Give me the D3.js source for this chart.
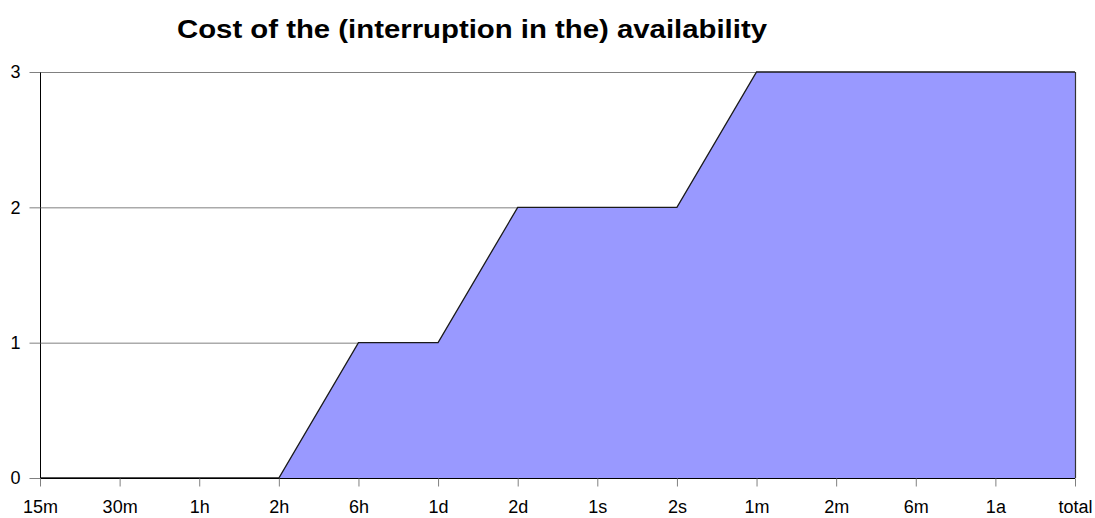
<!DOCTYPE html>
<html><head><meta charset="utf-8">
<script src="https://cdn.jsdelivr.net/npm/d3@7"></script>
<style>body{margin:0;background:#fff}svg{display:block}</style>
</head><body>
<script>
const categories = ["15m","30m","1h","2h","6h","1d","2d","1s","2s","1m","2m","6m","1a","total"];
const costValues = [0,0,0,0,1,1,2,2,2,3,3,3,3,3];
const yTicks = [0,1,2,3];
const title = "Cost of the (interruption in the) availability";

const W = 1095, H = 518;
const m = {left:40, right:1075, top:72, bottom:478};
const FONT = "Liberation Sans, Arial, sans-serif";
const svg = d3.select("body").append("svg").attr("width",W).attr("height",H);

const x = d3.scalePoint().domain(categories).range([m.left, m.right]);
const y = d3.scaleLinear().domain([0,3]).range([m.bottom, m.top]);

// gridlines
svg.append("g").selectAll("line").data(yTicks.filter(d=>d>0)).join("line")
  .attr("x1", m.left).attr("x2", m.right)
  .attr("y1", d=>y(d)+0.5).attr("y2", d=>y(d)+0.5)
  .attr("stroke","#808080").attr("stroke-width",1);

// area
const data = categories.map((c,i)=>({c, v:costValues[i]}));
svg.append("path").datum(data)
  .attr("d", d3.area().x(d=>x(d.c)).y0(y(0)).y1(d=>y(d.v)))
  .attr("fill","#9999FF");
svg.append("path").datum(data)
  .attr("d", d3.line().x(d=>x(d.c)).y(d=>y(d.v)))
  .attr("fill","none").attr("stroke","#1a1a1a").attr("stroke-width",1.3);

// right border
svg.append("line").attr("x1",m.right+0.5).attr("x2",m.right+0.5)
  .attr("y1",m.top).attr("y2",m.bottom).attr("stroke","#333").attr("stroke-width",1.2);

// x axis
const xAxis = svg.append("g").attr("transform",`translate(0,${m.bottom+0.5})`)
  .call(d3.axisBottom(x).tickSize(8).tickPadding(14));
xAxis.select(".domain").attr("stroke","#000").attr("d",`M${m.left},0H${m.right}`);
xAxis.selectAll(".tick line").attr("stroke","#808080");
xAxis.selectAll("text").attr("font-family",FONT).attr("font-size",18).attr("fill","#000");

// y axis
const yAxis = svg.append("g").attr("transform",`translate(${m.left+0.5},0)`)
  .call(d3.axisLeft(y).tickValues(yTicks).tickFormat(d3.format("d")).tickSize(11).tickPadding(9));
yAxis.select(".domain").attr("stroke","#000").attr("d",`M0,${m.top}V${m.bottom}`);
yAxis.selectAll(".tick line").attr("stroke","#808080");
yAxis.selectAll("text").attr("font-family",FONT).attr("font-size",18).attr("fill","#000");

// title
svg.append("text").attr("x",177).attr("y",38).attr("text-anchor","start")
  .attr("font-family",FONT).attr("font-weight","bold")
  .attr("font-size",25).attr("textLength",590).attr("lengthAdjust","spacingAndGlyphs")
  .text(title);
</script>
</body></html>
